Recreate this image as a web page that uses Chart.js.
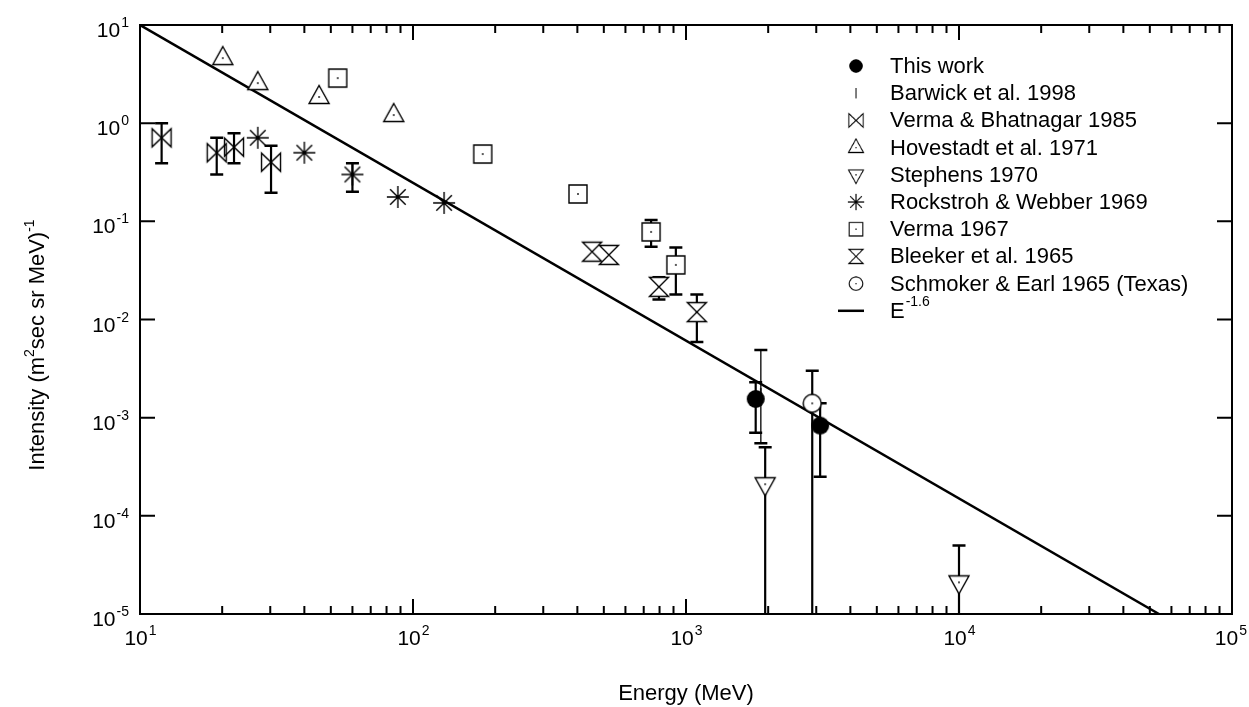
<!DOCTYPE html>
<html>
<head>
<meta charset="utf-8">
<script src="https://cdn.jsdelivr.net/npm/chart.js@4/dist/chart.umd.min.js"></script>
<style>
html, body { margin: 0; padding: 0; background: #fff; }
</style>
</head>
<body>
<canvas id="chart" width="1249" height="707"></canvas>
<script>
// data (energy in MeV, intensity)
var thisWorkE = [1800, 3100];
var thisWorkI = [0.00155, 0.00083];
var thisWorkLo = [0.0007, 0.00025];
var thisWorkHi = [0.0023, 0.0014];

var barwickE = [1880];
var barwickI = [0.0017];
var barwickLo = [0.00055];
var barwickHi = [0.0049];

var vbE = [12, 19.1, 22.1, 30.2];
var vbI = [0.71, 0.50, 0.57, 0.40];
var vbLo = [0.39, 0.30, 0.39, 0.195];
var vbHi = [1.0, 0.71, 0.79, 0.59];

var hovE = [20.1, 27, 45.3, 85];
var hovI = [4.6, 2.56, 1.85, 1.21];

var stephE = [1950, 10000];
var stephI = [0.00021, 0.000021];
var stephLo = [1e-7, 1e-7];
var stephHi = [0.0005, 0.00005];

var rockE = [27, 40, 60, 88, 130];
var rockI = [0.71, 0.50, 0.30, 0.177, 0.154];
var rockLo = [null, null, 0.20, null, null];
var rockHi = [null, null, 0.39, null, null];

var vermaE = [53, 180, 402, 745, 918];
var vermaI = [2.88, 0.485, 0.19, 0.078, 0.036];
var vermaLo = [null, null, null, 0.055, 0.018];
var vermaHi = [null, null, null, 0.103, 0.054];

var bleekerE = [453, 522, 796, 1096];
var bleekerI = [0.049, 0.0455, 0.0215, 0.0119];
var bleekerLo = [null, null, 0.016, 0.0059];
var bleekerHi = [null, null, 0.027, 0.018];

var schmokerE = [2900];
var schmokerI = [0.0014];
var schmokerLo = [1e-7];
var schmokerHi = [0.003];

// E^-1.6 line end points
var fitE = [10, 54000];
var fitI = [10, 1e-5];

var xMajor = [1, 2, 3, 4, 5];   // exponents of the x tick labels
var yMajor = [1, 0, -1, -2, -3, -4, -5];

var FONT = '"Liberation Sans", Arial, sans-serif';

//small canvases used as point styles
function marker(draw) {
  var c = document.createElement('canvas');
  c.width = 28;
  c.height = 28;
  var g = c.getContext('2d');
  g.translate(14, 14);
  g.strokeStyle = '#000';
  g.fillStyle = '#fff';
  g.lineWidth = 1.4;
  draw(g);
  return c;
}
function dot(g) {
  g.fillStyle = '#000';
  g.fillRect(-0.8, -0.8, 1.6, 1.6);
}

var mFilled = marker(function (g) {
  g.beginPath(); g.arc(0, 0, 9, 0, Math.PI * 2); g.fillStyle = '#000'; g.fill();
});
var mBar = marker(function (g) {
  g.beginPath(); g.moveTo(0, -7); g.lineTo(0, 7); g.lineWidth = 1.2; g.stroke();
});
var mBowtie = marker(function (g) {
  g.beginPath(); g.moveTo(-9.5, -9); g.lineTo(-9.5, 9); g.lineTo(9.5, -9); g.lineTo(9.5, 9); g.closePath();
  g.stroke();
});
var mUp = marker(function (g) {
  g.beginPath(); g.moveTo(0, -11.5); g.lineTo(10, 6.5); g.lineTo(-10, 6.5); g.closePath();
  g.fill(); g.stroke(); dot(g);
});
var mDown = marker(function (g) {
  g.beginPath(); g.moveTo(0, 11.5); g.lineTo(10, -6.5); g.lineTo(-10, -6.5); g.closePath();
  g.fill(); g.stroke(); dot(g);
});
var mStar = marker(function (g) {
  g.beginPath();
  for (var a = 0; a < 4; a++) {
    var r = a * Math.PI / 4;
    g.moveTo(-11 * Math.cos(r), -11 * Math.sin(r));
    g.lineTo(11 * Math.cos(r), 11 * Math.sin(r));
  }
  g.stroke(); dot(g);
});
var mSquare = marker(function (g) {
  g.beginPath(); g.rect(-9, -9, 18, 18); g.fill(); g.stroke(); dot(g);
});
var mHour = marker(function (g) {
  g.beginPath(); g.moveTo(-9.5, -9.5); g.lineTo(9.5, -9.5); g.lineTo(-9.5, 9.5); g.lineTo(9.5, 9.5); g.closePath();
  g.fill(); g.stroke();
});
var mCircle = marker(function (g) {
  g.beginPath(); g.arc(0, 0, 9, 0, Math.PI * 2); g.fill(); g.stroke(); dot(g);
});

function pts(xs, ys) {
  return xs.map(function (x, i) { return {x: x, y: ys[i]}; });
}

function series(label, xs, ys, style, lo, hi, thin) {
  return {
    label: label,
    data: pts(xs, ys),
    pointStyle: style,
    pointRadius: 9,
    showLine: false,
    errLo: lo,
    errHi: hi,
    thin: thin
  };
}

var datasets = [
  series('This work', thisWorkE, thisWorkI, mFilled, thisWorkLo, thisWorkHi),
  series('Barwick et al. 1998', barwickE, barwickI, mBar, barwickLo, barwickHi, true),
  series('Verma & Bhatnagar 1985', vbE, vbI, mBowtie, vbLo, vbHi),
  series('Hovestadt et al. 1971', hovE, hovI, mUp),
  series('Stephens 1970', stephE, stephI, mDown, stephLo, stephHi),
  series('Rockstroh & Webber 1969', rockE, rockI, mStar, rockLo, rockHi),
  series('Verma 1967', vermaE, vermaI, mSquare, vermaLo, vermaHi),
  series('Bleeker et al. 1965', bleekerE, bleekerI, mHour, bleekerLo, bleekerHi),
  series('Schmoker & Earl 1965 (Texas)', schmokerE, schmokerI, mCircle, schmokerLo, schmokerHi),
  {
    label: 'E-1.6',
    data: pts(fitE, fitI),
    showLine: true,
    borderColor: '#000',
    borderWidth: 2.5,
    pointRadius: 0,
    isFit: true
  }
];

function power(ctx, exp, x, y, align) {
  ctx.font = '21px ' + FONT;
  var w1 = ctx.measureText('10').width;
  ctx.font = '14px ' + FONT;
  var w2 = ctx.measureText(String(exp)).width;
  var left = align === 'right' ? x - w1 - w2 - 1 : x - (w1 + w2) / 2;
  if (left + w1 + w2 > 1246) left = 1246 - w1 - w2;
  ctx.textAlign = 'left';
  ctx.textBaseline = 'alphabetic';
  ctx.font = '21px ' + FONT;
  ctx.fillText('10', left, y);
  ctx.font = '14px ' + FONT;
  ctx.fillText(String(exp), left + w1 + 1, y - 10);
}

var decor = {
  id: 'decor',
  beforeDatasetsDraw: function (chart) {
    var ctx = chart.ctx, a = chart.chartArea;
    var xs = chart.scales.x, ys = chart.scales.y;
    ctx.save();
    ctx.beginPath();
    ctx.rect(a.left, a.top, a.right - a.left, a.bottom - a.top);
    ctx.clip();
    ctx.strokeStyle = '#000';
    chart.data.datasets.forEach(function (ds) {
      if (!ds.errLo) return;
      ds.data.forEach(function (p, i) {
        if (ds.errLo[i] == null) return;
        var px = xs.getPixelForValue(p.x);
        var top = ys.getPixelForValue(ds.errHi[i]);
        var bot = ys.getPixelForValue(ds.errLo[i]);
        ctx.lineWidth = ds.thin ? 1.3 : 2.2;
        ctx.beginPath();
        ctx.moveTo(px, top);
        ctx.lineTo(px, bot);
        ctx.stroke();
        ctx.lineWidth = 2.5;
        ctx.beginPath();
        ctx.moveTo(px - 6.5, top); ctx.lineTo(px + 6.5, top);
        ctx.moveTo(px - 6.5, bot); ctx.lineTo(px + 6.5, bot);
        ctx.stroke();
      });
    });
    ctx.restore();
  },
  afterDraw: function (chart) {
    var ctx = chart.ctx, a = chart.chartArea;
    var xs = chart.scales.x, ys = chart.scales.y;
    ctx.save();
    ctx.strokeStyle = '#000';
    ctx.fillStyle = '#000';
    ctx.lineWidth = 2;
    ctx.strokeRect(a.left, a.top, a.right - a.left, a.bottom - a.top);

    // x ticks, top and bottom, pointing inward
    ctx.beginPath();
    for (var e = 1; e < 5; e++) {
      for (var m = 1; m < 10; m++) {
        var px = xs.getPixelForValue(m * Math.pow(10, e));
        var len = m === 1 ? 15 : 8;
        ctx.moveTo(px, a.bottom); ctx.lineTo(px, a.bottom - len);
        ctx.moveTo(px, a.top); ctx.lineTo(px, a.top + len);
      }
    }
    // y ticks, left and right
    yMajor.forEach(function (k) {
      var py = ys.getPixelForValue(Math.pow(10, k));
      ctx.moveTo(a.left, py); ctx.lineTo(a.left + 15, py);
      ctx.moveTo(a.right, py); ctx.lineTo(a.right - 15, py);
    });
    ctx.stroke();

    xMajor.forEach(function (k) {
      power(ctx, k, xs.getPixelForValue(Math.pow(10, k)), a.bottom + 31, 'center');
    });
    yMajor.forEach(function (k) {
      power(ctx, k, 129, ys.getPixelForValue(Math.pow(10, k)) + 12, 'right');
    });

    // axis titles
    ctx.font = '22px ' + FONT;
    ctx.textAlign = 'center';
    ctx.textBaseline = 'middle';
    ctx.fillText('Energy (MeV)', (a.left + a.right) / 2, 694);

    ctx.save();
    ctx.translate(36, 345);
    ctx.rotate(-Math.PI / 2);
    var parts = [['Intensity (m', 22, 0], ['2', 14, -10], ['sec sr MeV)', 22, 0], ['-1', 14, -10]];
    var total = 0;
    parts.forEach(function (p) { ctx.font = p[1] + 'px ' + FONT; total += ctx.measureText(p[0]).width; });
    var cx = -total / 2;
    ctx.textAlign = 'left';
    ctx.textBaseline = 'alphabetic';
    parts.forEach(function (p) {
      ctx.font = p[1] + 'px ' + FONT;
      ctx.fillText(p[0], cx, 8 + p[2]);
      cx += ctx.measureText(p[0]).width;
    });
    ctx.restore();

    // legend
    var rowY = 66, step = 27.2;
    ctx.textAlign = 'left';
    ctx.textBaseline = 'middle';
    chart.data.datasets.forEach(function (ds, i) {
      var y = rowY + i * step;
      if (ds.isFit) {
        ctx.lineWidth = 2.5;
        ctx.beginPath(); ctx.moveTo(838, y); ctx.lineTo(864, y); ctx.stroke();
        ctx.font = '22px ' + FONT;
        ctx.fillText('E', 890, y + 1);
        var w = ctx.measureText('E').width;
        ctx.font = '14px ' + FONT;
        ctx.fillText('-1.6', 890 + w + 1, y - 9);
        return;
      }
      var st = ds.pointStyle;
      ctx.save();
      ctx.translate(856, y);
      ctx.scale(0.75, 0.75);
      ctx.drawImage(st, -st.width / 2, -st.height / 2);
      ctx.restore();
      ctx.font = '22px ' + FONT;
      ctx.fillText(ds.label, 890, y + 1);
    });
    ctx.restore();
  }
};

new Chart(document.getElementById('chart'), {
  type: 'scatter',
  data: {datasets: datasets},
  options: {
    responsive: false,
    animation: false,
    devicePixelRatio: 1,
    layout: {padding: {left: 140, top: 25, right: 17, bottom: 93}},
    plugins: {legend: {display: false}, tooltip: {enabled: false}},
    scales: {
      x: {type: 'logarithmic', min: 10, max: 100000, display: false},
      y: {type: 'logarithmic', min: 0.00001, max: 10, display: false}
    }
  },
  plugins: [decor]
});
</script>
</body>
</html>
